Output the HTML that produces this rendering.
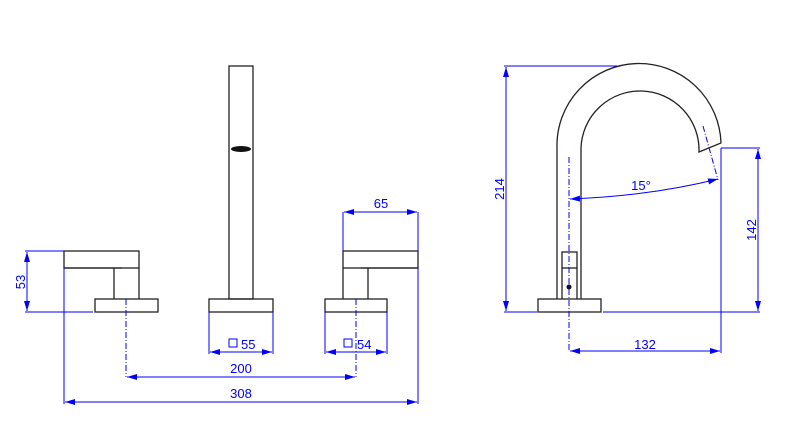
<!DOCTYPE html>
<html><head><style>body{margin:0;background:#fff}svg{display:block}text{font-family:"Liberation Sans",sans-serif;font-size:13px;fill:#0000ff}</style></head><body>
<svg width="800" height="443" viewBox="0 0 800 443" xmlns="http://www.w3.org/2000/svg">
<defs><marker id="a" viewBox="0 0 10 6" refX="10" refY="3" markerWidth="10" markerHeight="6" orient="auto-start-reverse" markerUnits="userSpaceOnUse"><path d="M0,0L10,3L0,6z" fill="#0000ff"/></marker></defs>
<g fill="none" stroke="#222" stroke-width="1.3">
<rect x="64" y="251" width="75" height="17"/><path d="M64,268H122M114,268V299M139,268V299"/><rect x="95" y="299" width="63" height="13"/>
<rect x="229" y="66" width="24" height="233"/><rect x="209" y="299" width="64" height="13"/>
<rect x="343" y="251" width="75" height="17"/><path d="M361,268H418M368,268V299M343,268V299"/><rect x="325" y="299" width="62" height="13"/>
<path d="M557,299V148A82,82 0 0 1 721,143L699,152A58,58 0 0 0 581,148V299"/>
<rect x="538" y="299" width="63" height="13"/><rect x="562" y="252" width="15" height="16"/><path d="M562,268V299M577,268V299"/>
</g>
<ellipse cx="241" cy="149" rx="10" ry="3" fill="#111"/>
<circle cx="569" cy="287" r="2.5" fill="#111"/>
<g fill="none" stroke="#0000ff" stroke-width="1">
<path d="M126,299V377M356,299V377M569,157V352M703,126L718,180" stroke-dasharray="6,2,1,2"/>
<path d="M25,251H64M25,312H93M209,312V354M273,312V354M325,312V354M387,312V354M64,268V404M418,268V404M343,212V251M418,212V251M504,66H617M504,312H537M603,312H760M721,148H760M721,148V353"/>
<path d="M27,252V311" marker-start="url(#a)" marker-end="url(#a)"/>
<path d="M344,212H417" marker-start="url(#a)" marker-end="url(#a)"/>
<path d="M210,352H272" marker-start="url(#a)" marker-end="url(#a)"/>
<path d="M326,352H386" marker-start="url(#a)" marker-end="url(#a)"/>
<path d="M127,377H355" marker-start="url(#a)" marker-end="url(#a)"/>
<path d="M65,402H417" marker-start="url(#a)" marker-end="url(#a)"/>
<path d="M506,67V311" marker-start="url(#a)" marker-end="url(#a)"/>
<path d="M758,149V311" marker-start="url(#a)" marker-end="url(#a)"/>
<path d="M570,351H720" marker-start="url(#a)" marker-end="url(#a)"/>
<path d="M570,199Q650,196 718,179" marker-start="url(#a)" marker-end="url(#a)"/>
<rect x="229" y="339" width="8" height="8"/><rect x="344" y="339" width="8" height="8"/>
</g>
<text x="381" y="212" text-anchor="middle" dy="-4">65</text>
<text x="241" y="349">55</text><text x="357" y="349">54</text>
<text x="241" y="373" text-anchor="middle">200</text>
<text x="241" y="398" text-anchor="middle">308</text>
<text x="645" y="349" text-anchor="middle">132</text>
<text x="641" y="190" text-anchor="middle">15°</text>
<text transform="translate(25,282) rotate(-90)" text-anchor="middle">53</text>
<text transform="translate(504,189) rotate(-90)" text-anchor="middle">214</text>
<text transform="translate(756,230) rotate(-90)" text-anchor="middle">142</text>
</svg>
</body></html>
